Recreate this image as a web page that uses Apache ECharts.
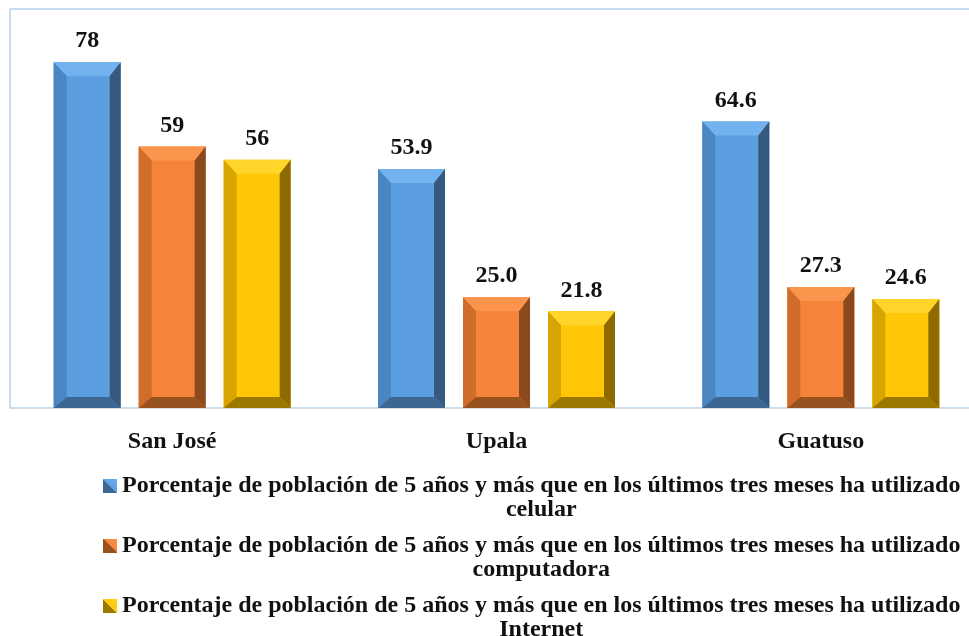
<!DOCTYPE html>
<html>
<head>
<meta charset="utf-8">
<script src="https://cdn.jsdelivr.net/npm/echarts@6/dist/echarts.min.js"></script>
<style>
  html, body { margin: 0; padding: 0; background: #fff; }
  #chart { width: 969px; height: 636px; }
</style>
</head>
<body>
<div id="chart"></div>
<script>
// categories and values
const categories = ['San José', 'Upala', 'Guatuso'];
const decimals = [0, 1, 1];
const seriesNames = [
    'Porcentaje de población de 5 años y más que en los últimos tres meses ha utilizado celular',
    'Porcentaje de población de 5 años y más que en los últimos tres meses ha utilizado computadora',
    'Porcentaje de población de 5 años y más que en los últimos tres meses ha utilizado Internet'
];
const celular = [78, 53.9, 64.6];
const computadora = [59, 25.0, 27.3];
const internet = [56, 21.8, 24.6];

const FONT = '"Liberation Serif", "Times New Roman", serif';
const BAR_W = 67;
const BAR_GAP = 18;

// face, top bevel, left bevel, right bevel, bottom bevel
const shades = [
    { face: '#5c9fe0', top: '#72b2ee', left: '#4a86c2', right: '#35597f', bottom: '#3d6792' },
    { face: '#f5843a', top: '#fb954e', left: '#d16d2b', right: '#8a4a1e', bottom: '#97521f' },
    { face: '#ffc708', top: '#ffd529', left: '#d8a400', right: '#8d6b00', bottom: '#9b7800' }
];

function bevelBar(seriesIdx) {
    const c = shades[seriesIdx];
    const offset = (seriesIdx - 1) * (BAR_W + BAR_GAP);
    return function (params, api) {
        const i = api.value(0);
        const v = api.value(1);
        const base = api.coord([i, 0]);
        const top = api.coord([i, v]);
        const x0 = base[0] + offset - BAR_W / 2;
        const x1 = x0 + BAR_W;
        const y0 = top[1];
        const y1 = base[1];
        const bt = 14, bb = 11, bl = 13, br = 11;
        const poly = function (pts, fill) {
            return { type: 'polygon', shape: { points: pts }, style: { fill: fill }, silent: true };
        };
        return {
            type: 'group',
            children: [
                {
                    type: 'rect',
                    shape: { x: x0, y: y0, width: BAR_W, height: y1 - y0 },
                    style: { fill: c.face },
                    textContent: {
                        style: {
                            text: v.toFixed(decimals[i]),
                            fontFamily: FONT,
                            fontWeight: 'bold',
                            fontSize: 24,
                            fill: '#111'
                        }
                    },
                    textConfig: { position: 'top', distance: 9 }
                },
                poly([[x0, y0], [x1, y0], [x1 - br, y0 + bt], [x0 + bl, y0 + bt]], c.top),
                poly([[x0, y0], [x0 + bl, y0 + bt], [x0 + bl, y1 - bb], [x0, y1]], c.left),
                poly([[x1, y0], [x1, y1], [x1 - br, y1 - bb], [x1 - br, y0 + bt]], c.right),
                poly([[x0, y1], [x0 + bl, y1 - bb], [x1 - br, y1 - bb], [x1, y1]], c.bottom)
            ]
        };
    };
}

function makeSeries(name, values, idx) {
    return {
        name: name,
        type: 'custom',
        renderItem: bevelBar(idx),
        encode: { x: 0, y: 1 },
        itemStyle: { color: shades[idx].face },
        data: values.map(function (v, i) { return [i, v]; })
    };
}

function legendIcon(idx) {
    const c = shades[idx];
    return new echarts.graphic.LinearGradient(0, 1, 1, 0, [
        { offset: 0, color: c.bottom },
        { offset: 0.5, color: c.bottom },
        { offset: 0.5, color: c.face },
        { offset: 1, color: c.top }
    ]);
}

const chart = echarts.init(document.getElementById('chart'));

chart.setOption({
    animation: false,
    grid: {
        show: true,
        left: 10,
        top: 9,
        width: 973,
        bottom: 228,
        outerBoundsMode: 'none',
        borderColor: '#93bbe6',
        borderWidth: 1
    },
    xAxis: {
        type: 'category',
        data: categories,
        axisTick: { show: false },
        axisLine: { lineStyle: { color: '#d9d9d9', width: 1 } },
        axisLabel: {
            margin: 22,
            fontFamily: FONT,
            fontWeight: 'bold',
            fontSize: 24,
            color: '#111'
        }
    },
    yAxis: {
        type: 'value',
        min: 0,
        max: 90,
        show: false,
        splitLine: { show: false }
    },
    legend: {
        orient: 'vertical',
        left: 103,
        top: 474,
        height: 400,   // keep all three items in one column
        padding: 0,
        itemGap: 12,
        itemWidth: 14,
        itemHeight: 14,
        icon: 'rect',
        data: seriesNames.map(function (n, i) {
            return { name: n, itemStyle: { color: legendIcon(i) } };
        }),
        formatter: function (name) {
            // last word goes on its own centred line
            const cut = name.lastIndexOf(' ');
            return '{a|' + name.slice(0, cut) + '}\n{a|' + name.slice(cut + 1) + '}';
        },
        textStyle: {
            padding: [24, 0, 0, 0],
            rich: {
                a: {
                    align: 'center',
                    fontFamily: FONT,
                    fontWeight: 'bold',
                    fontSize: 24,
                    lineHeight: 24,
                    color: '#111'
                }
            }
        }
    },
    series: [
        makeSeries(seriesNames[0], celular, 0),
        makeSeries(seriesNames[1], computadora, 1),
        makeSeries(seriesNames[2], internet, 2)
    ]
});
</script>
</body>
</html>
